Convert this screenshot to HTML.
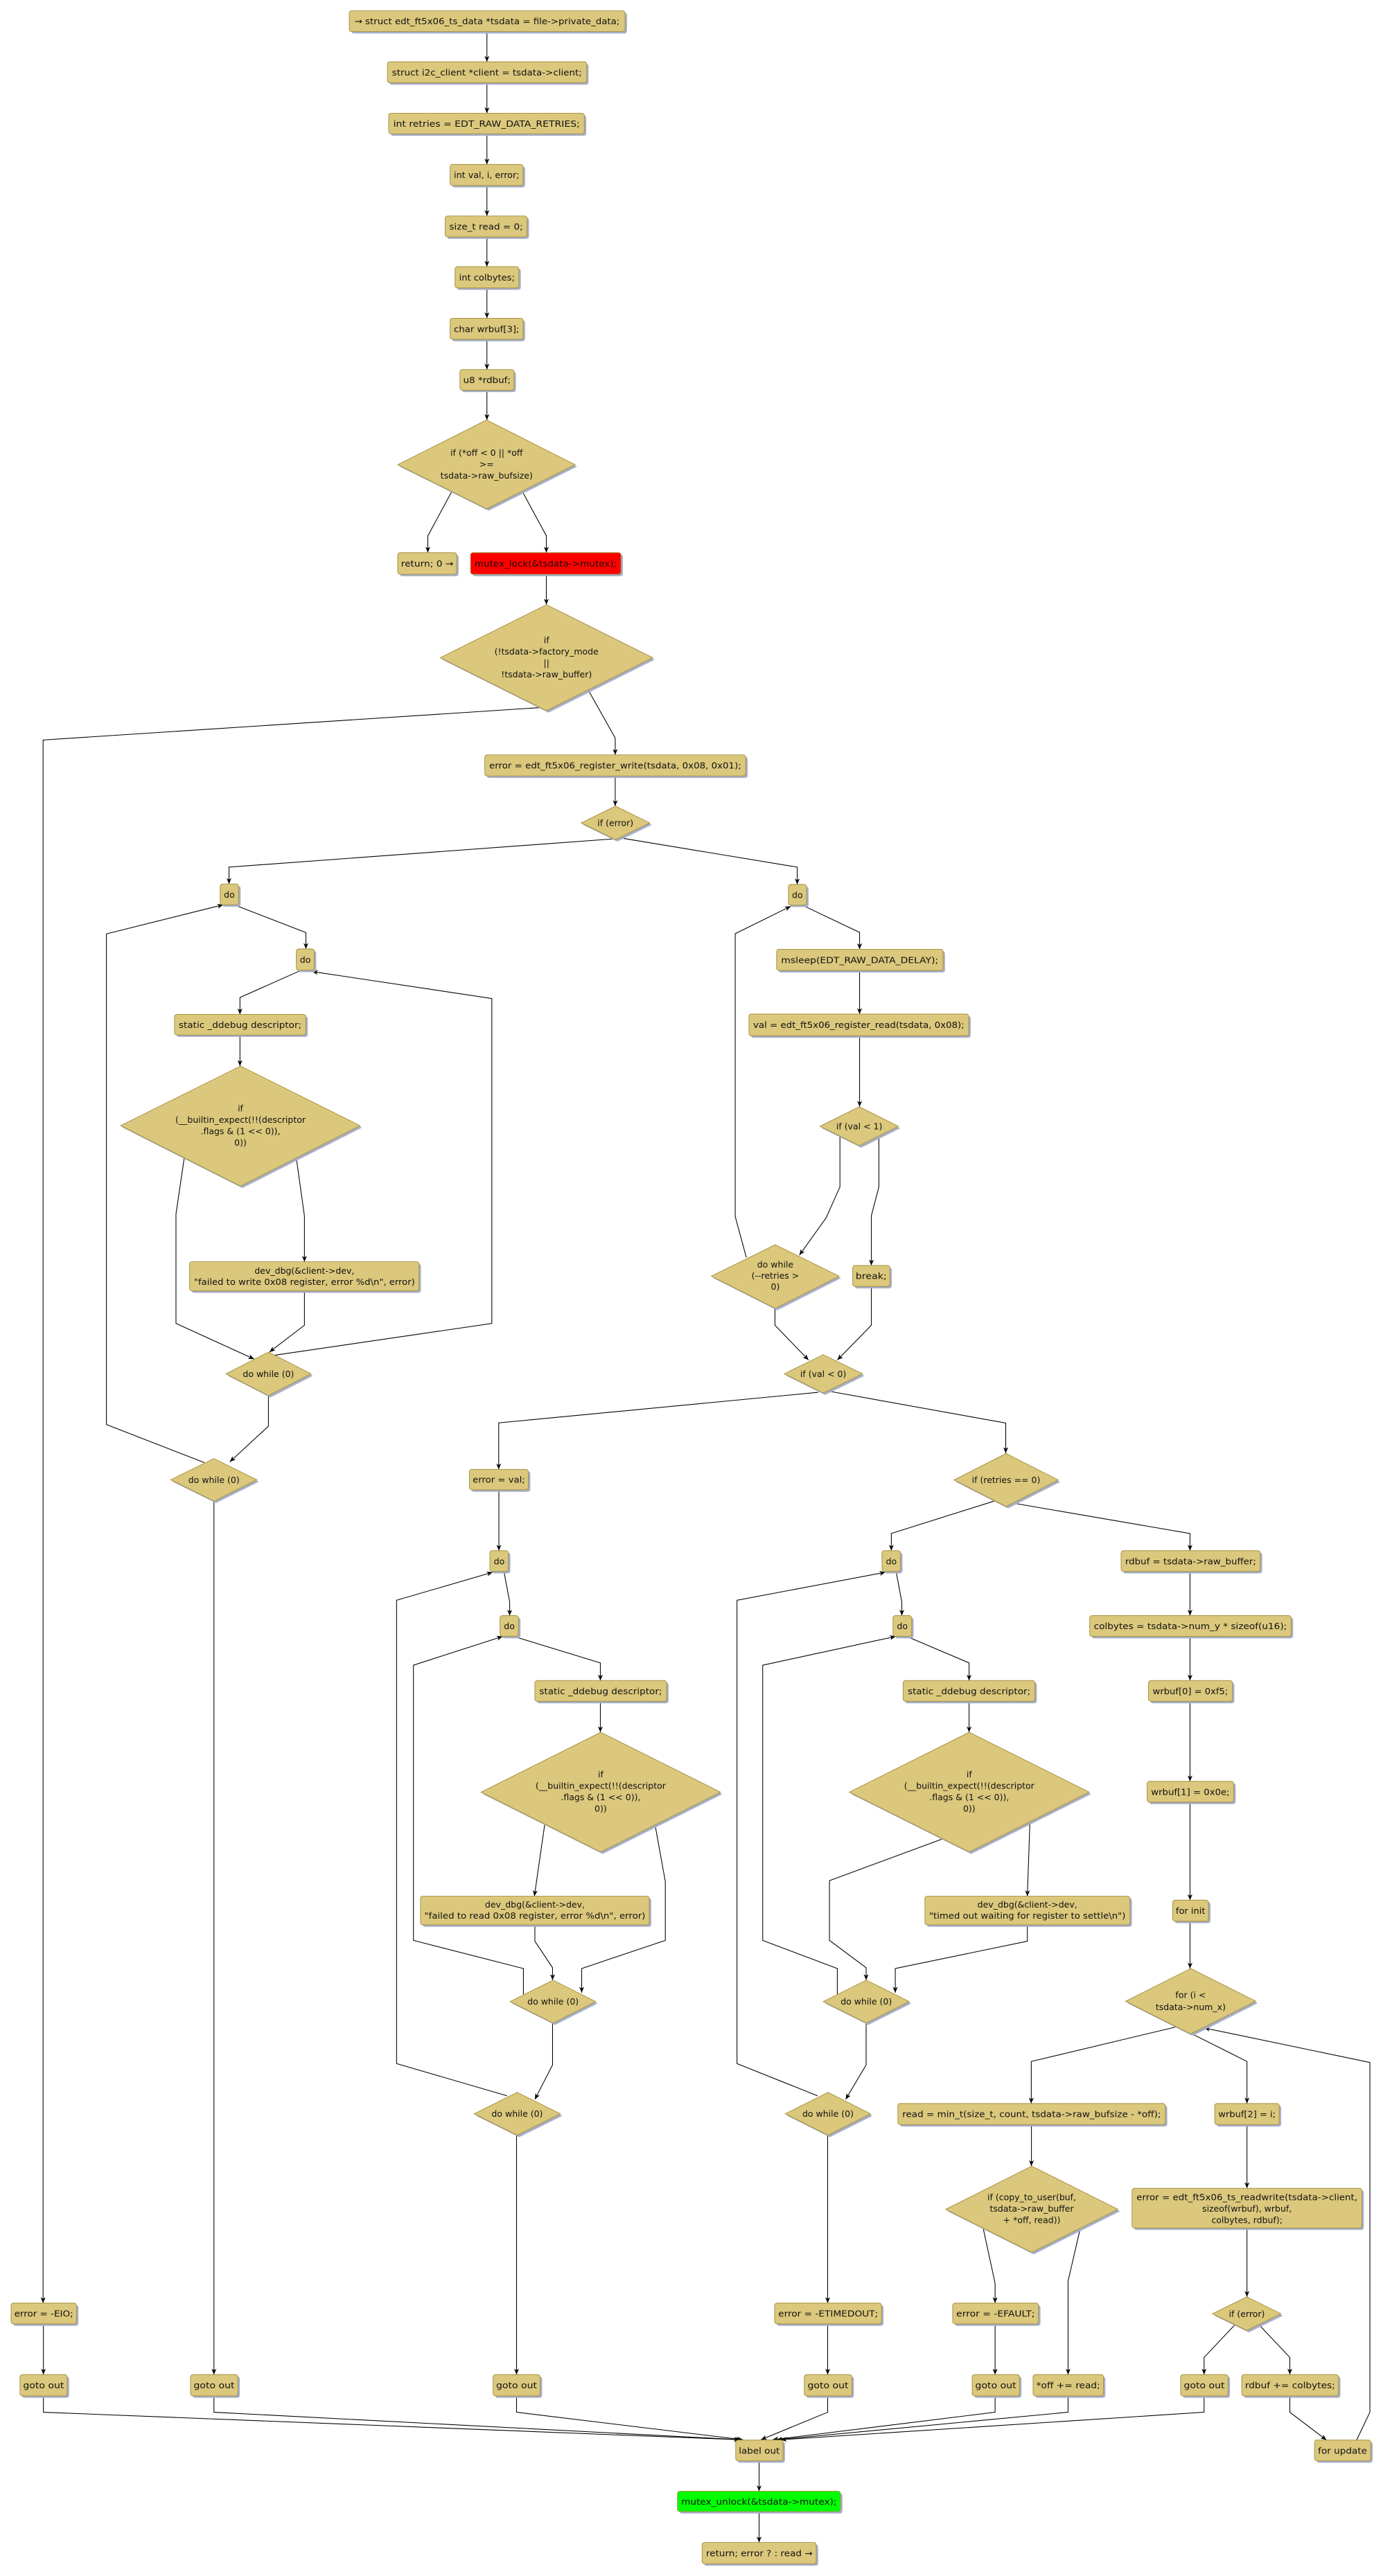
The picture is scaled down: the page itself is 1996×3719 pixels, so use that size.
<!DOCTYPE html>
<html><head><meta charset="utf-8"><style>
html,body{margin:0;padding:0;background:#fff;}
svg{display:block;}
.b{fill:#dbc87c;stroke:#a58f3e;stroke-width:0.4;}
.s{fill:#a7afc8;}
.l{fill:none;stroke:#000;stroke-width:0.45;}
.a{fill:none;stroke:#000;stroke-width:0.45;marker-end:url(#ar);}
text{font-family:"DejaVu Sans","Liberation Sans",sans-serif;font-size:5.3px;fill:#111;dominant-baseline:central;text-anchor:middle;}
</style></head><body>
<svg width="1996" height="3719" viewBox="0 0 845 1574.5" xmlns="http://www.w3.org/2000/svg">
<defs><marker id="ar" markerUnits="userSpaceOnUse" markerWidth="5" markerHeight="4" refX="3.6" refY="1.5" orient="auto"><path d="M0,0 L3.6,1.5 L0,3 L1,1.5 z" fill="#000"/></marker></defs>

<!-- connectors -->
<g>
<path class="a" d="M297.5,19.3V37.8"/>
<path class="a" d="M297.5,50.6V69.2"/>
<path class="a" d="M297.5,81.8V100.5"/>
<path class="a" d="M297.5,113.4V132"/>
<path class="a" d="M297.5,144.8V163"/>
<path class="a" d="M297.5,176V194.5"/>
<path class="a" d="M297.5,207.4V225.9"/>
<path class="a" d="M297.5,238.5V256.7"/>
<path class="a" d="M276,300.5L261.4,327.5V337.8"/>
<path class="a" d="M319.2,300.5L333.8,327.5V337.8"/>
<path class="a" d="M333.8,351V369.6"/>
<path class="a" d="M330,432.5L26.3,452.3V1407.7"/>
<path class="a" d="M359.2,421.4L375.9,451.1V461.4"/>
<path class="a" d="M375.9,474.3V492.7"/>
<path class="a" d="M374,512.8L139.9,530V540.3"/>
<path class="a" d="M380,512.3L487.1,530V540.6"/>
<!-- left column -->
<path class="a" d="M143,553L186.9,570V580"/>
<path class="a" d="M184.1,593L146.6,609.7V620"/>
<path class="a" d="M146.6,632.6V651.6"/>
<path class="a" d="M112.6,707.5L107.5,742V808.9L155.3,830.7"/>
<path class="a" d="M181,707.5L186,743.3V771.2"/>
<path class="a" d="M186,789V810L164.6,826.4"/>
<path class="a" d="M167.4,828.4L300.5,808.9V610.3L190.6,593.8"/>
<path class="a" d="M164,852.7V871.7L140.4,893.5"/>
<path class="a" d="M124.9,894L65,870.7V570.8L136.4,553"/>
<path class="a" d="M130.7,917.5V1451.4"/>
<!-- right top -->
<path class="a" d="M490.1,553.2L525.2,569.9V580.2"/>
<path class="a" d="M525.2,593.2V619.8"/>
<path class="a" d="M525.2,633.1V676.5"/>
<path class="a" d="M513.2,694.3V725.4L504.8,744.3L488.4,767.2"/>
<path class="a" d="M537,693.6V725.4L532.4,743V773.5"/>
<path class="a" d="M456,768.6L449.2,743.5V570.7L483.2,553.9"/>
<path class="a" d="M473.5,799.7V810L494,831.3"/>
<path class="a" d="M532.4,786.3V810L511.6,831.3"/>
<path class="a" d="M500,851L304.7,869.7V898.1"/>
<path class="a" d="M506.8,850.4L614.5,869.8V888.2"/>
<path class="a" d="M304.8,910.6V947.8"/>
<!-- middle column -->
<path class="a" d="M307.9,960.5L311.4,979.1V987.5"/>
<path class="a" d="M313.9,1000.2L366.8,1016.4V1027.2"/>
<path class="a" d="M366.8,1039.9V1058.8"/>
<path class="a" d="M332.8,1115.2L326.5,1159"/>
<path class="a" d="M400.2,1115.2L406.5,1150V1186L355.4,1203.2V1218"/>
<path class="a" d="M326.8,1176.5V1186.5L337.6,1202.7V1210.3"/>
<path class="a" d="M319.8,1219V1203.2L252.6,1186V1017.8L307.1,1000.2"/>
<path class="a" d="M337.6,1236.5V1262.1L326.8,1283.2"/>
<path class="a" d="M309.8,1281L242.3,1261.3V978.1L301,961"/>
<path class="a" d="M315.6,1305.1V1451.4"/>
<!-- right-middle column -->
<path class="a" d="M608,917.3L544.6,937.3V947.8"/>
<path class="a" d="M618.8,918.7L727.1,937.3V947.8"/>
<path class="a" d="M547.5,960.5L551,979.1V987.5"/>
<path class="a" d="M554,1000.2L592.1,1016.4V1027.2"/>
<path class="a" d="M592.1,1039.9V1058.8"/>
<path class="a" d="M576.1,1123.9L506.8,1149.5V1186L529.2,1202.7V1210.3"/>
<path class="a" d="M629.3,1113L627.7,1159"/>
<path class="a" d="M627.7,1176.5V1186.5L547,1203.2V1218"/>
<path class="a" d="M511.6,1219V1203.2L466,1186V1017.8L547.3,1000.2"/>
<path class="a" d="M529.2,1236.5V1262.1L516.7,1283.2"/>
<path class="a" d="M499.5,1281L450.3,1261.3V978.1L541,961"/>
<path class="a" d="M505.7,1305.1V1407.7"/>
<path class="a" d="M505.7,1420.4V1451.4"/>
<!-- right column -->
<path class="a" d="M727.1,960.5V987.5"/>
<path class="a" d="M727.1,1000.2V1027.2"/>
<path class="a" d="M727.1,1039.9V1088.8"/>
<path class="a" d="M727.1,1101.5V1161.4"/>
<path class="a" d="M727.1,1174.3V1203.2"/>
<path class="a" d="M718.2,1239L630.1,1260V1285.7"/>
<path class="a" d="M726.8,1242.4L761.9,1260V1285.7"/>
<path class="a" d="M630.2,1298.6V1324"/>
<path class="a" d="M600.7,1361.8L608,1395.6V1407.7"/>
<path class="a" d="M608,1420.4V1451.4"/>
<path class="a" d="M660.1,1361.8L652.6,1394.2V1451.4"/>
<path class="a" d="M761.9,1298.6V1337.5"/>
<path class="a" d="M761.9,1361.8V1403.9"/>
<path class="a" d="M754.3,1421.2L735.7,1440.9V1451.4"/>
<path class="a" d="M769.5,1421.2L788.1,1440.9V1451.4"/>
<path class="a" d="M788.1,1464.4V1474.4L810.5,1491.4"/>
<path class="a" d="M828.9,1491.4L837,1474.4V1260.6L735.7,1239.5"/>
<!-- bottom -->
<path class="a" d="M26.5,1420.4V1451.4"/>
<path class="a" d="M26.5,1464.4V1474.4L452,1491.2"/>
<path class="a" d="M130.7,1464.4V1474.4L453,1491.2"/>
<path class="a" d="M315.6,1464.4V1474.4L454,1491.2"/>
<path class="a" d="M505.7,1464.4V1474.4L464.9,1491.2"/>
<path class="a" d="M608,1464.4V1474.4L472,1491.2"/>
<path class="a" d="M652.6,1464.4V1474.4L474.5,1491.2"/>
<path class="a" d="M735.7,1464.4V1474.4L477,1491.2"/>
<path class="a" d="M463.8,1504.1V1522.7"/>
<path class="a" d="M463.8,1535.1V1554"/>
</g>

<!-- boxes: shadow + box + text -->
<g>
<rect class="s" x="214.6" y="7.8" width="168.5" height="12.7" rx="1.5"/><rect class="b" x="213.4" y="6.6" width="168.5" height="12.7" rx="1.5"/><text x="297.6" y="13" textLength="162" lengthAdjust="spacingAndGlyphs">→ struct edt_ft5x06_ts_data *tsdata = file-&gt;private_data;</text>
<rect class="s" x="237.9" y="39" width="121.7" height="12.8" rx="1.5"/><rect class="b" x="236.7" y="37.8" width="121.7" height="12.8" rx="1.5"/><text x="297.5" y="44.2" textLength="116" lengthAdjust="spacingAndGlyphs">struct i2c_client *client = tsdata-&gt;client;</text>
<rect class="s" x="238.7" y="70.4" width="119.5" height="12.6" rx="1.5"/><rect class="b" x="237.5" y="69.2" width="119.5" height="12.6" rx="1.5"/><text x="297.3" y="75.5" textLength="114" lengthAdjust="spacingAndGlyphs">int retries  = EDT_RAW_DATA_RETRIES;</text>
<rect class="s" x="276.2" y="101.7" width="44.6" height="12.9" rx="1.5"/><rect class="b" x="275" y="100.5" width="44.6" height="12.9" rx="1.5"/><text x="297.3" y="107" textLength="40" lengthAdjust="spacingAndGlyphs">int val, i, error;</text>
<rect class="s" x="273.2" y="133.2" width="50" height="12.8" rx="1.5"/><rect class="b" x="272" y="132" width="50" height="12.8" rx="1.5"/><text x="297" y="138.4" textLength="45" lengthAdjust="spacingAndGlyphs">size_t read = 0;</text>
<rect class="s" x="279.2" y="164.2" width="39" height="13" rx="1.5"/><rect class="b" x="278" y="163" width="39" height="13" rx="1.5"/><text x="297.5" y="169.5" textLength="34" lengthAdjust="spacingAndGlyphs">int colbytes;</text>
<rect class="s" x="276.2" y="195.7" width="44.6" height="12.9" rx="1.5"/><rect class="b" x="275" y="194.5" width="44.6" height="12.9" rx="1.5"/><text x="297.3" y="201" textLength="40" lengthAdjust="spacingAndGlyphs">char wrbuf[3];</text>
<rect class="s" x="282.2" y="227.1" width="33" height="12.6" rx="1.5"/><rect class="b" x="281" y="225.9" width="33" height="12.6" rx="1.5"/><text x="297.5" y="232.2" textLength="29" lengthAdjust="spacingAndGlyphs">u8 *rdbuf;</text>

<rect class="s" x="244.2" y="339" width="36" height="13.2" rx="1.5"/><rect class="b" x="243" y="337.8" width="36" height="13.2" rx="1.5"/><text x="261" y="344.4" textLength="32" lengthAdjust="spacingAndGlyphs">return; 0 →</text>
<rect class="s" x="288.7" y="339" width="91.9" height="13.2" rx="1.5"/><rect x="287.5" y="337.8" width="91.9" height="13.2" rx="1.5" fill="#ff0000" stroke="#a58f3e" stroke-width="0.4"/><text x="333.4" y="344.4" textLength="87" lengthAdjust="spacingAndGlyphs">mutex_lock(&amp;tsdata-&gt;mutex);</text>

<rect class="s" x="297.4" y="462.6" width="159.4" height="12.9" rx="1.5"/><rect class="b" x="296.2" y="461.4" width="159.4" height="12.9" rx="1.5"/><text x="375.9" y="467.9" textLength="154" lengthAdjust="spacingAndGlyphs">error = edt_ft5x06_register_write(tsdata, 0x08, 0x01);</text>

<rect class="s" x="135.7" y="541.5" width="11.3" height="12.7" rx="1.5"/><rect class="b" x="134.5" y="540.3" width="11.3" height="12.7" rx="1.5"/><text x="140.1" y="546.7">do</text>
<rect class="s" x="182.2" y="581.2" width="11" height="13" rx="1.5"/><rect class="b" x="181" y="580" width="11" height="13" rx="1.5"/><text x="186.5" y="586.5">do</text>
<rect class="s" x="107.8" y="621.2" width="80.2" height="12.6" rx="1.5"/><rect class="b" x="106.6" y="620" width="80.2" height="12.6" rx="1.5"/><text x="146.7" y="626.3" textLength="75" lengthAdjust="spacingAndGlyphs">static _ddebug descriptor;</text>
<rect class="s" x="117" y="772.4" width="140.2" height="17.8" rx="1.5"/><rect class="b" x="115.8" y="771.2" width="140.2" height="17.8" rx="1.5"/><text x="186" y="776.6">dev_dbg(&amp;client-&gt;dev,</text><text x="186" y="783.4" textLength="135" lengthAdjust="spacingAndGlyphs">"failed to write 0x08 register, error %d\n", error)</text>

<rect class="s" x="482.9" y="541.8" width="11.1" height="12.6" rx="1.5"/><rect class="b" x="481.7" y="540.6" width="11.1" height="12.6" rx="1.5"/><text x="487.2" y="546.9">do</text>
<rect class="s" x="475.7" y="581.4" width="101.7" height="13" rx="1.5"/><rect class="b" x="474.5" y="580.2" width="101.7" height="13" rx="1.5"/><text x="525.3" y="586.7" textLength="96" lengthAdjust="spacingAndGlyphs">msleep(EDT_RAW_DATA_DELAY);</text>
<rect class="s" x="458.8" y="621" width="134.3" height="13.3" rx="1.5"/><rect class="b" x="457.6" y="619.8" width="134.3" height="13.3" rx="1.5"/><text x="524.7" y="626.4" textLength="129" lengthAdjust="spacingAndGlyphs">val = edt_ft5x06_register_read(tsdata, 0x08);</text>
<rect class="s" x="522.2" y="774.7" width="22.7" height="12.8" rx="1.5"/><rect class="b" x="521" y="773.5" width="22.7" height="12.8" rx="1.5"/><text x="532.3" y="779.9" textLength="19" lengthAdjust="spacingAndGlyphs">break;</text>

<rect class="s" x="288" y="899.3" width="36" height="12.5" rx="1.5"/><rect class="b" x="286.8" y="898.1" width="36" height="12.5" rx="1.5"/><text x="304.8" y="904.4" textLength="32" lengthAdjust="spacingAndGlyphs">error = val;</text>
<rect class="s" x="300.5" y="949" width="11.3" height="12.7" rx="1.5"/><rect class="b" x="299.3" y="947.8" width="11.3" height="12.7" rx="1.5"/><text x="305" y="954.2">do</text>
<rect class="s" x="306.7" y="988.7" width="11.3" height="12.7" rx="1.5"/><rect class="b" x="305.5" y="987.5" width="11.3" height="12.7" rx="1.5"/><text x="311.2" y="993.9">do</text>
<rect class="s" x="328" y="1028.4" width="80.5" height="12.7" rx="1.5"/><rect class="b" x="326.8" y="1027.2" width="80.5" height="12.7" rx="1.5"/><text x="367" y="1033.6" textLength="75" lengthAdjust="spacingAndGlyphs">static _ddebug descriptor;</text>
<rect class="s" x="258.1" y="1160.2" width="139.8" height="17.5" rx="1.5"/><rect class="b" x="256.9" y="1159" width="139.8" height="17.5" rx="1.5"/><text x="326.8" y="1164.1">dev_dbg(&amp;client-&gt;dev,</text><text x="326.8" y="1170.9" textLength="135" lengthAdjust="spacingAndGlyphs">"failed to read 0x08 register, error %d\n", error)</text>

<rect class="s" x="540.1" y="949" width="11.3" height="12.7" rx="1.5"/><rect class="b" x="538.9" y="947.8" width="11.3" height="12.7" rx="1.5"/><text x="544.6" y="954.2">do</text>
<rect class="s" x="546.8" y="988.7" width="11.4" height="12.7" rx="1.5"/><rect class="b" x="545.6" y="987.5" width="11.4" height="12.7" rx="1.5"/><text x="551.3" y="993.9">do</text>
<rect class="s" x="553" y="1028.4" width="80.5" height="12.7" rx="1.5"/><rect class="b" x="551.8" y="1027.2" width="80.5" height="12.7" rx="1.5"/><text x="592.1" y="1033.6" textLength="75" lengthAdjust="spacingAndGlyphs">static _ddebug descriptor;</text>
<rect class="s" x="566.3" y="1160.2" width="125.3" height="17.5" rx="1.5"/><rect class="b" x="565.1" y="1159" width="125.3" height="17.5" rx="1.5"/><text x="627.7" y="1164.1">dev_dbg(&amp;client-&gt;dev,</text><text x="627.7" y="1170.9" textLength="120" lengthAdjust="spacingAndGlyphs">"timed out waiting for register to settle\n")</text>
<rect class="s" x="474.5" y="1408.9" width="65.3" height="12.7" rx="1.5"/><rect class="b" x="473.3" y="1407.7" width="65.3" height="12.7" rx="1.5"/><text x="506" y="1414.1" textLength="61" lengthAdjust="spacingAndGlyphs">error = -ETIMEDOUT;</text>

<rect class="s" x="686.2" y="949" width="85" height="12.7" rx="1.5"/><rect class="b" x="685" y="947.8" width="85" height="12.7" rx="1.5"/><text x="727.5" y="954.2" textLength="80" lengthAdjust="spacingAndGlyphs">rdbuf = tsdata-&gt;raw_buffer;</text>
<rect class="s" x="667" y="988.7" width="123.1" height="12.7" rx="1.5"/><rect class="b" x="665.8" y="987.5" width="123.1" height="12.7" rx="1.5"/><text x="727.3" y="993.9" textLength="118" lengthAdjust="spacingAndGlyphs">colbytes = tsdata-&gt;num_y * sizeof(u16);</text>
<rect class="s" x="702.9" y="1028.4" width="51.3" height="12.7" rx="1.5"/><rect class="b" x="701.7" y="1027.2" width="51.3" height="12.7" rx="1.5"/><text x="727.3" y="1033.6" textLength="46" lengthAdjust="spacingAndGlyphs">wrbuf[0] = 0xf5;</text>
<rect class="s" x="702.1" y="1090" width="52.9" height="12.7" rx="1.5"/><rect class="b" x="700.9" y="1088.8" width="52.9" height="12.7" rx="1.5"/><text x="727.3" y="1095.2" textLength="48" lengthAdjust="spacingAndGlyphs">wrbuf[1] = 0x0e;</text>
<rect class="s" x="717.7" y="1162.6" width="21.9" height="12.9" rx="1.5"/><rect class="b" x="716.5" y="1161.4" width="21.9" height="12.9" rx="1.5"/><text x="727.4" y="1167.9" textLength="18" lengthAdjust="spacingAndGlyphs">for init</text>
<rect class="s" x="549.8" y="1286.9" width="163.4" height="12.9" rx="1.5"/><rect class="b" x="548.6" y="1285.7" width="163.4" height="12.9" rx="1.5"/><text x="630.3" y="1292.2" textLength="158" lengthAdjust="spacingAndGlyphs">read = min_t(size_t, count, tsdata-&gt;raw_bufsize - *off);</text>
<rect class="s" x="743.4" y="1286.9" width="39.4" height="12.9" rx="1.5"/><rect class="b" x="742.2" y="1285.7" width="39.4" height="12.9" rx="1.5"/><text x="761.9" y="1292.2" textLength="35" lengthAdjust="spacingAndGlyphs">wrbuf[2] = i;</text>
<rect class="s" x="692.9" y="1338.7" width="140.4" height="24.3" rx="1.5"/><rect class="b" x="691.7" y="1337.5" width="140.4" height="24.3" rx="1.5"/><text x="761.9" y="1342.9" textLength="135" lengthAdjust="spacingAndGlyphs">error = edt_ft5x06_ts_readwrite(tsdata-&gt;client,</text><text x="761.9" y="1349.9">sizeof(wrbuf), wrbuf,</text><text x="761.9" y="1356.9">colbytes, rdbuf);</text>
<rect class="s" x="583.3" y="1408.9" width="52.4" height="12.7" rx="1.5"/><rect class="b" x="582.1" y="1407.7" width="52.4" height="12.7" rx="1.5"/><text x="608.3" y="1414.1" textLength="48" lengthAdjust="spacingAndGlyphs">error = -EFAULT;</text>

<rect class="s" x="7.95" y="1408.9" width="39.95" height="12.7" rx="1.5"/><rect class="b" x="6.75" y="1407.7" width="39.95" height="12.7" rx="1.5"/><text x="26.7" y="1414.1" textLength="36" lengthAdjust="spacingAndGlyphs">error = -EIO;</text>
<rect class="s" x="13.4" y="1452.6" width="28.8" height="13" rx="1.5"/><rect class="b" x="12.2" y="1451.4" width="28.8" height="13" rx="1.5"/><text x="26.6" y="1457.9" textLength="25" lengthAdjust="spacingAndGlyphs">goto out</text>
<rect class="s" x="117.6" y="1452.6" width="28.9" height="13" rx="1.5"/><rect class="b" x="116.4" y="1451.4" width="28.9" height="13" rx="1.5"/><text x="130.8" y="1457.9" textLength="25" lengthAdjust="spacingAndGlyphs">goto out</text>
<rect class="s" x="302.5" y="1452.6" width="28.7" height="13" rx="1.5"/><rect class="b" x="301.3" y="1451.4" width="28.7" height="13" rx="1.5"/><text x="315.6" y="1457.9" textLength="25" lengthAdjust="spacingAndGlyphs">goto out</text>
<rect class="s" x="492.6" y="1452.6" width="29.1" height="13" rx="1.5"/><rect class="b" x="491.4" y="1451.4" width="29.1" height="13" rx="1.5"/><text x="505.9" y="1457.9" textLength="25" lengthAdjust="spacingAndGlyphs">goto out</text>
<rect class="s" x="595.2" y="1452.6" width="28.9" height="13" rx="1.5"/><rect class="b" x="594" y="1451.4" width="28.9" height="13" rx="1.5"/><text x="608.4" y="1457.9" textLength="25" lengthAdjust="spacingAndGlyphs">goto out</text>
<rect class="s" x="632.4" y="1452.6" width="43" height="13" rx="1.5"/><rect class="b" x="631.2" y="1451.4" width="43" height="13" rx="1.5"/><text x="652.7" y="1457.9" textLength="39" lengthAdjust="spacingAndGlyphs">*off += read;</text>
<rect class="s" x="722.6" y="1452.6" width="28.9" height="13" rx="1.5"/><rect class="b" x="721.4" y="1451.4" width="28.9" height="13" rx="1.5"/><text x="735.8" y="1457.9" textLength="25" lengthAdjust="spacingAndGlyphs">goto out</text>
<rect class="s" x="759.9" y="1452.6" width="59.1" height="13" rx="1.5"/><rect class="b" x="758.7" y="1451.4" width="59.1" height="13" rx="1.5"/><text x="788.2" y="1457.9" textLength="55" lengthAdjust="spacingAndGlyphs">rdbuf += colbytes;</text>
<rect class="s" x="804.4" y="1492.6" width="34.3" height="12.7" rx="1.5"/><rect class="b" x="803.2" y="1491.4" width="34.3" height="12.7" rx="1.5"/><text x="820.3" y="1497.8" textLength="30" lengthAdjust="spacingAndGlyphs">for update</text>
<rect class="s" x="450.7" y="1492.6" width="28.9" height="12.7" rx="1.5"/><rect class="b" x="449.5" y="1491.4" width="28.9" height="12.7" rx="1.5"/><text x="463.9" y="1497.8" textLength="25" lengthAdjust="spacingAndGlyphs">label out</text>
<rect class="s" x="415.1" y="1523.9" width="99.6" height="12.4" rx="1.5"/><rect x="413.9" y="1522.7" width="99.6" height="12.4" rx="1.5" fill="#00ff00" stroke="#a58f3e" stroke-width="0.4"/><text x="463.7" y="1528.9" textLength="95" lengthAdjust="spacingAndGlyphs">mutex_unlock(&amp;tsdata-&gt;mutex);</text>
<rect class="s" x="430.2" y="1555.2" width="69.7" height="13" rx="1.5"/><rect class="b" x="429" y="1554" width="69.7" height="13" rx="1.5"/><text x="463.9" y="1560.5" textLength="65" lengthAdjust="spacingAndGlyphs">return; error ? : read →</text>
</g>

<!-- diamonds -->
<g>
<polygon class="s" points="298.5,257.9 352.6,285.2 298.5,312.2 244.2,285.2"/><polygon class="b" points="297.3,256.7 351.4,284 297.3,311 243,284"/>
<text x="297.3" y="276.7">if (*off &lt; 0 || *off</text><text x="297.3" y="283.7">&gt;=</text><text x="297.3" y="290.7">tsdata-&gt;raw_bufsize)</text>

<polygon class="s" points="335.1,370.8 400,403.2 335.1,435.6 270.2,403.2"/><polygon class="b" points="333.9,369.6 398.8,402 333.9,434.4 269,402"/>
<text x="333.9" y="391.2">if</text><text x="333.9" y="398.2">(!tsdata-&gt;factory_mode</text><text x="333.9" y="405.2">||</text><text x="333.9" y="412.2">!tsdata-&gt;raw_buffer)</text>

<polygon class="s" points="377.2,493.9 398.2,504.2 377.2,514.4 356.3,504.2"/><polygon class="b" points="376,492.7 397,503 376,513.2 355.1,503"/>
<text x="376" y="503">if (error)</text>

<polygon class="s" points="148.1,652.8 221.2,689.2 148.1,726.2 74.9,689.2"/><polygon class="b" points="146.9,651.6 220,688 146.9,725 73.7,688"/>
<text x="146.9" y="677.4">if</text><text x="146.9" y="684.4">(__builtin_expect(!!(descriptor</text><text x="146.9" y="691.3">.flags &amp; (1 &lt;&lt; 0)),</text><text x="146.9" y="698.3">0))</text>

<polygon class="s" points="165.2,827.6 191.2,840.9 165.2,854.2 139.2,840.9"/><polygon class="b" points="164,826.4 190,839.7 164,853 138,839.7"/>
<text x="164" y="839.7">do while (0)</text>
<polygon class="s" points="131.9,892.7 158.2,905.7 131.9,918.7 105.5,905.7"/><polygon class="b" points="130.7,891.5 157,904.5 130.7,917.5 104.3,904.5"/>
<text x="130.7" y="904.5">do while (0)</text>

<polygon class="s" points="526.2,677.7 550.1,689.6 526.2,701.5 502.2,689.6"/><polygon class="b" points="525,676.5 548.9,688.4 525,700.3 501,688.4"/>
<text x="525" y="688.4">if (val &lt; 1)</text>
<polygon class="s" points="474.9,762 513.9,781.2 474.9,800.9 435.8,781.2"/><polygon class="b" points="473.7,760.8 512.7,780 473.7,799.7 434.6,780"/>
<text x="473.7" y="772.9">do while</text><text x="473.7" y="779.7">(--retries &gt;</text><text x="473.7" y="786.4">0)</text>
<polygon class="s" points="504.2,829.2 528.2,840.9 504.2,852.6 480.4,840.9"/><polygon class="b" points="503,828 527,839.7 503,851.4 479.2,839.7"/>
<text x="503" y="839.7">if (val &lt; 0)</text>
<polygon class="s" points="615.9,889.6 647.8,905.8 615.9,922 584.1,905.8"/><polygon class="b" points="614.7,888.4 646.6,904.6 614.7,920.8 582.9,904.6"/>
<text x="614.7" y="904.6">if (retries == 0)</text>

<polygon class="s" points="368.2,1060 441.4,1096.6 368.2,1133.2 295.1,1096.6"/><polygon class="b" points="367,1058.8 440.2,1095.4 367,1132 293.9,1095.4"/>
<text x="367" y="1084.4">if</text><text x="367" y="1091.5">(__builtin_expect(!!(descriptor</text><text x="367" y="1098.5">.flags &amp; (1 &lt;&lt; 0)),</text><text x="367" y="1105.5">0))</text>
<polygon class="s" points="339.1,1211.5 365.2,1224.6 339.1,1237.7 312.9,1224.6"/><polygon class="b" points="337.9,1210.3 364,1223.4 337.9,1236.5 311.7,1223.4"/>
<text x="337.9" y="1223.4">do while (0)</text>
<polygon class="s" points="317.2,1280.1 343.6,1293.2 317.2,1306.3 290.9,1293.2"/><polygon class="b" points="316,1278.9 342.4,1292 316,1305.1 289.7,1292"/>
<text x="316" y="1292">do while (0)</text>

<polygon class="s" points="593.4,1060 666.7,1096.6 593.4,1133.2 520.1,1096.6"/><polygon class="b" points="592.2,1058.8 665.5,1095.4 592.2,1132 518.9,1095.4"/>
<text x="592.2" y="1084.4">if</text><text x="592.2" y="1091.5">(__builtin_expect(!!(descriptor</text><text x="592.2" y="1098.5">.flags &amp; (1 &lt;&lt; 0)),</text><text x="592.2" y="1105.5">0))</text>
<polygon class="s" points="530.5,1211.5 556.8,1224.6 530.5,1237.7 504.2,1224.6"/><polygon class="b" points="529.3,1210.3 555.6,1223.4 529.3,1236.5 503,1223.4"/>
<text x="529.3" y="1223.4">do while (0)</text>
<polygon class="s" points="507.1,1280.1 533.1,1293.2 507.1,1306.3 481,1293.2"/><polygon class="b" points="505.9,1278.9 531.9,1292 505.9,1305.1 479.8,1292"/>
<text x="505.9" y="1292">do while (0)</text>

<polygon class="s" points="728.7,1204.4 768.5,1224.4 728.7,1244.4 688.9,1224.4"/><polygon class="b" points="727.5,1203.2 767.3,1223.2 727.5,1243.2 687.7,1223.2"/>
<text x="727.5" y="1219.4">for (i &lt;</text><text x="727.5" y="1226.7">tsdata-&gt;num_x)</text>
<polygon class="s" points="631.6,1325.2 684.3,1351.6 631.6,1377.9 579,1351.6"/><polygon class="b" points="630.4,1324 683.1,1350.4 630.4,1376.7 577.8,1350.4"/>
<text x="630.4" y="1342.9">if (copy_to_user(buf,</text><text x="630.4" y="1349.9">tsdata-&gt;raw_buffer</text><text x="630.4" y="1356.9">+ *off, read))</text>
<polygon class="s" points="763,1405.1 783.9,1415.4 763,1425.6 742,1415.4"/><polygon class="b" points="761.8,1403.9 782.7,1414.2 761.8,1424.4 740.8,1414.2"/>
<text x="761.8" y="1414.2">if (error)</text>
</g>
</svg>
</body></html>
